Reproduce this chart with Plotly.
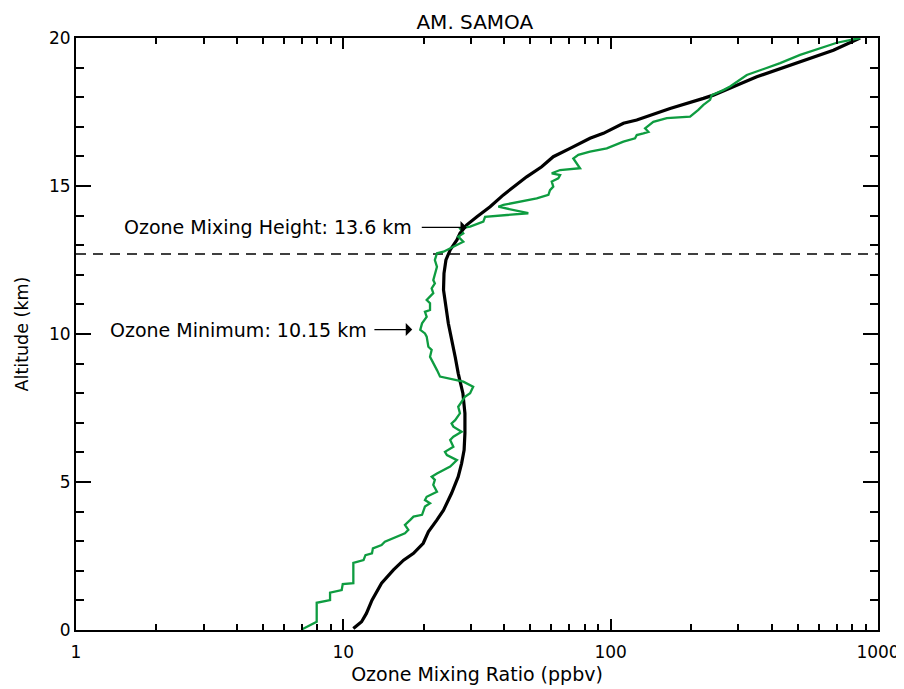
import numpy as np
import plotly.graph_objects as go

# ---- data ----
black_alt = [0.05, 0.28, 0.56, 1.01, 1.58, 2.03, 2.36, 2.59, 2.93, 3.32, 3.72, 4.05, 4.62, 5.18,
             5.63, 6.08, 6.65, 7.32, 8.00, 8.67, 9.23, 9.80, 10.36, 10.92, 11.49, 12.05, 12.50,
             12.84, 13.18, 13.40, 13.68, 13.96, 14.30, 14.70, 15.31, 15.65, 15.99, 16.27, 16.61,
             16.78, 17.12, 17.23, 17.62, 17.96, 18.07, 18.69, 19.15, 19.59, 20.0]
black_o3 = [10.9, 11.7, 12.2, 12.8, 13.9, 15.4, 16.8, 18.3, 19.9, 20.8, 22.4, 23.7, 25.4, 26.9,
            27.7, 28.3, 28.5, 28.5, 28.0, 26.9, 26.2, 25.4, 24.7, 24.2, 23.7, 23.8, 24.2,
            25.1, 26.6, 27.3, 28.9, 31.6, 35.4, 39.7, 48.5, 55.2, 61.0, 70.5, 83.7,
            93.9, 111.6, 125.2, 166.8, 222.3, 242.2, 352.0, 496.8, 681.0, 857.0]

green_alt = [0.02, 0.28, 0.92, 1.01, 1.26, 1.35, 1.55, 1.58, 2.27, 2.36, 2.53, 2.59, 2.76, 2.87,
             2.98, 3.27, 3.38, 3.55, 3.72, 3.83, 3.89, 4.17, 4.28, 4.39, 4.50, 4.67, 4.90, 5.07,
             5.18, 5.29, 5.52, 5.74, 5.91, 6.02, 6.19, 6.42, 6.53, 6.70, 6.87, 6.98, 7.09, 7.32,
             7.54, 7.77, 7.88, 8.00, 8.22, 8.39, 8.56, 8.78, 9.01, 9.23, 9.46, 9.57, 9.91, 10.02,
             10.14, 10.36, 10.58, 10.75, 10.81, 11.04, 11.15, 11.26, 11.38, 11.54, 11.71, 11.82,
             12.05, 12.27, 12.50, 12.73, 12.78, 12.89, 13.01, 13.12, 13.29, 13.40, 13.57, 13.63,
             13.80, 13.96, 14.08, 14.30, 14.36, 14.58, 14.70, 14.86, 14.98, 15.15, 15.26, 15.37,
             15.43, 15.54, 15.60, 15.77, 15.93, 16.05, 16.16, 16.27, 16.50, 16.61, 16.72, 16.78,
             16.83, 16.95, 17.17, 17.29, 17.34, 17.57, 17.74, 17.91, 18.07, 18.24, 18.36, 18.75,
             18.98, 19.15, 19.43, 19.65, 19.84, 20.0]
green_o3 = [6.99, 7.95, 7.95, 8.92, 8.92, 9.86, 9.95, 10.9, 10.9, 11.9, 12.1, 12.8, 12.9, 13.9,
            14.3, 17.0, 17.5, 17.0, 17.8, 18.3, 19.7, 20.2, 21.1, 20.2, 20.5, 22.4, 21.7, 22.0,
            21.4, 22.4, 25.1, 26.6, 24.4, 24.0, 25.8, 25.1, 25.8, 27.7, 25.8, 25.4, 26.2, 27.3,
            26.9, 28.1, 28.5, 29.8, 30.6, 28.1, 23.0, 22.4, 21.7, 21.1, 21.4, 20.8, 20.5, 20.2,
            19.4, 19.7, 20.5, 20.2, 21.1, 21.1, 20.5, 21.1, 21.7, 21.4, 22.0, 21.7,
            22.0, 22.4, 22.0, 22.4, 23.7, 25.1, 26.6, 28.1, 26.9, 28.1, 27.3, 29.8,
            33.4, 33.9, 49.2, 38.0, 39.7, 52.9, 58.5, 59.3, 61.0, 60.2, 63.7, 64.7,
            60.2, 64.7, 76.8, 74.7, 72.5, 75.7, 83.7, 96.7, 111.6, 123.4, 125.2, 132.6,
            138.4, 134.5, 144.4, 162.2, 198.2, 212.8, 222.3, 235.4, 238.9, 264.0, 279.7, 323.0,
            383.7, 430.4, 511.2, 607.3, 701.6, 857.0]

tropopause_alt = 12.7
mixing_height = 13.6
mixing_o3 = 29.0
ozone_min_alt = 10.15
ozone_min_o3 = 18.1

x_tickvals = [1, 10, 100, 1000]
x_ticktext = ["1", "10", "100", "1000"]
x_minor = [m * d for d in (1, 10, 100) for m in range(2, 10)]
y_tickvals = [0, 5, 10, 15, 20]

FONT = "DejaVu Sans"
GREEN = "#0e9c40"

fig = go.Figure()
fig.add_trace(go.Scatter(x=[1, 1000], y=[tropopause_alt, tropopause_alt], mode="lines",
                         line=dict(color="black", width=1.5, dash="10px,7px"), hoverinfo="skip"))
fig.add_trace(go.Scatter(x=black_o3, y=black_alt, mode="lines",
                         line=dict(color="black", width=3.2)))
fig.add_trace(go.Scatter(x=green_o3, y=green_alt, mode="lines",
                         line=dict(color=GREEN, width=2.3)))

ann_font = dict(family=FONT, size=19, color="black")
annotations = []
for (label, tail_x, text_x, head_x, y) in [
    ("Ozone Mixing Height: 13.6 km", 19.4, 18.4, mixing_o3, mixing_height),
    ("Ozone Minimum: 10.15 km", 12.9, 12.5, ozone_min_o3, ozone_min_alt),
]:
    annotations.append(dict(x=np.log10(text_x), y=y, xref="x", yref="y", text=label,
                            showarrow=False, xanchor="right", yanchor="middle", font=ann_font))
    annotations.append(dict(x=np.log10(head_x), y=y, xref="x", yref="y", text="",
                            showarrow=True, axref="x", ayref="y", ax=np.log10(tail_x), ay=y,
                            arrowhead=1, arrowsize=1.8, arrowwidth=1.2, arrowcolor="black"))

# page body has an 8px default margin, so the figure is drawn 8px in from the window edge
fig.update_layout(
    width=896, height=681,
    margin=dict(l=68, r=26, t=30, b=59, autoexpand=False),
    paper_bgcolor="white", plot_bgcolor="white",
    showlegend=False,
    font=dict(family=FONT, size=17, color="black"),
    title=dict(text="AM. SAMOA", x=0.521, xanchor="center", y=0.98, yanchor="middle",
               yref="container", font=dict(family=FONT, size=20)),
    annotations=annotations,
)
fig.update_xaxes(
    type="log", range=[0, 3], showgrid=False, zeroline=False,
    showline=True, linecolor="black", linewidth=2, mirror="ticks",
    ticks="inside", ticklen=11, tickwidth=1.5, tickcolor="black",
    tickvals=x_tickvals, ticktext=x_ticktext, ticklabelstandoff=6,
    minor=dict(tickvals=x_minor, ticks="inside", ticklen=6, tickwidth=1.5, tickcolor="black", showgrid=False),
    title=dict(text="Ozone Mixing Ratio (ppbv)", standoff=6, font=dict(family=FONT, size=19)),
)
fig.update_yaxes(
    range=[0, 20], showgrid=False, zeroline=False,
    showline=True, linecolor="black", linewidth=2, mirror="ticks",
    ticks="inside", ticklen=15, tickwidth=1.5, tickcolor="black",
    tickvals=y_tickvals,
    minor=dict(dtick=1, ticks="inside", ticklen=8, tickwidth=1.5, tickcolor="black", showgrid=False),
    title=dict(text="Altitude (km)", standoff=16, font=dict(family=FONT, size=17.5)),
)

fig.write_html("out.html")
